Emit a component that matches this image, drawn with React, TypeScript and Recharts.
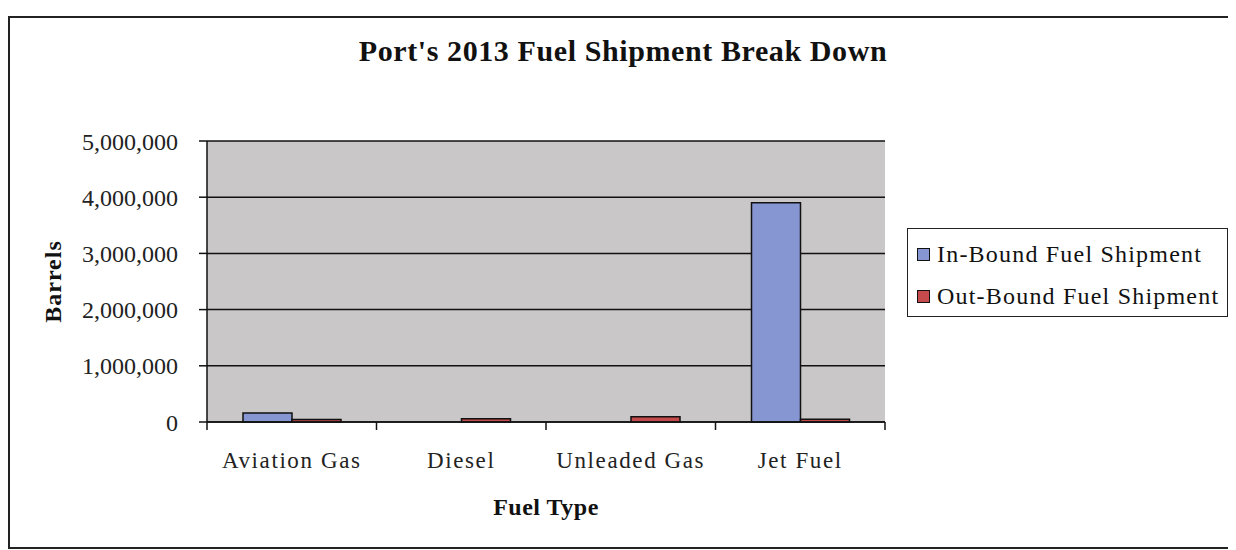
import React from 'react';
import { BarChart, Bar, XAxis, YAxis, CartesianGrid } from 'recharts';

// values (barrels)
const fuelTypes = ['Aviation Gas', 'Diesel', 'Unleaded Gas', 'Jet Fuel'];
const inBound = [160000, 0, 0, 3900000];
const outBound = [45000, 60000, 95000, 50000];
const yTicks = [0, 1000000, 2000000, 3000000, 4000000, 5000000];

const series = [
  { key: 'inBound', name: 'In-Bound Fuel Shipment', color: '#8596d2' },
  { key: 'outBound', name: 'Out-Bound Fuel Shipment', color: '#c44a4c' },
];

const data = fuelTypes.map((fuel, i) => ({
  fuel,
  inBound: inBound[i],
  outBound: outBound[i],
}));

const FONT = '"Liberation Serif", "Times New Roman", serif';
const yTickStyle = { fontFamily: FONT, fontSize: 24, fill: '#222' };

const TICK_SIZE = 8;
const TICK_MARGIN = 22;

const formatBarrels = (v: number) => v.toLocaleString('en-US');

// Excel style: tick marks sit on the category boundaries, labels in the middle
const CategoryTick = (props: any) => {
  const { x, y, payload, index, visibleTicksCount } = props;
  const half = payload.offset || 0;
  const axisY = y - TICK_SIZE - TICK_MARGIN;
  const edges = [x - half];
  if (index === visibleTicksCount - 1) edges.push(x + half);
  return (
    <g>
      {edges.map((ex, i) => (
        <line key={i} x1={ex} x2={ex} y1={axisY} y2={axisY + TICK_SIZE} stroke="#111" strokeWidth={1.5} />
      ))}
      <text
        x={x}
        y={y}
        dy="0.71em"
        textAnchor="middle"
        style={{ fontFamily: FONT, fontSize: 23, fill: '#222', letterSpacing: 1.6 }}
      >
        {payload.value}
      </text>
    </g>
  );
};

const App: React.FC = () => {
  return (
    <div style={{ paddingTop: 8 }}>
      <div
        style={{
          position: 'relative',
          width: 1222,
          height: 533,
          boxSizing: 'border-box',
          border: '2px solid #222',
          background: '#fff',
          fontFamily: FONT,
        }}
      >
        <div
          style={{
            position: 'absolute',
            top: 16,
            left: 4,
            width: '100%',
            textAlign: 'center',
            fontWeight: 'bold',
            fontSize: 30,
            letterSpacing: 0.6,
            color: '#111',
          }}
        >
          Port's 2013 Fuel Shipment Break Down
        </div>

        <BarChart
          width={1218}
          height={529}
          data={data}
          margin={{ top: 123, right: 343, bottom: 25, left: 20 }}
          barGap={0}
        >
          <CartesianGrid
            vertical={false}
            stroke="#111"
            strokeWidth={1.5}
            fill="#c9c7c7"
            fillOpacity={1}
          />
          <XAxis
            dataKey="fuel"
            height={100}
            tickLine={false}
            tickSize={TICK_SIZE}
            tickMargin={TICK_MARGIN}
            tick={<CategoryTick />}
            axisLine={{ stroke: '#111', strokeWidth: 1.5 }}
            label={{
              value: 'Fuel Type',
              position: 'insideBottom',
              offset: 7,
              style: { fontFamily: FONT, fontSize: 24, fontWeight: 'bold', fill: '#111', letterSpacing: 0.5 },
            }}
          />
          <YAxis
            width={177}
            domain={[0, 5000000]}
            ticks={yTicks}
            tickFormatter={formatBarrels}
            tick={yTickStyle}
            tickSize={8}
            tickMargin={21}
            tickLine={{ stroke: '#111', strokeWidth: 1.5 }}
            axisLine={{ stroke: '#111', strokeWidth: 1.5 }}
            label={{
              value: 'Barrels',
              angle: -90,
              position: 'insideLeft',
              offset: 22,
              style: { fontFamily: FONT, fontSize: 24, fontWeight: 'bold', fill: '#111', textAnchor: 'middle', letterSpacing: 1 },
            }}
          />
          {series.map((s) => (
            <Bar
              key={s.key}
              dataKey={s.key}
              name={s.name}
              fill={s.color}
              stroke="#111"
              strokeWidth={1.5}
              barSize={49}
              isAnimationActive={false}
            />
          ))}
        </BarChart>

        <div
          style={{
            position: 'absolute',
            left: 897,
            top: 210,
            width: 321,
            height: 89,
            boxSizing: 'border-box',
            border: '1.5px solid #222',
            padding: '4px 0 0 9px',
          }}
        >
          {series.map((s) => (
            <div
              key={s.key}
              style={{ display: 'flex', alignItems: 'center', height: 42, fontSize: 24, letterSpacing: 1.2, color: '#111', whiteSpace: 'nowrap' }}
            >
              <span
                style={{
                  display: 'inline-block',
                  width: 11,
                  height: 11,
                  background: s.color,
                  border: '1.5px solid #111',
                  marginRight: 7,
                }}
              />
              {s.name}
            </div>
          ))}
        </div>
      </div>
    </div>
  );
};

export default App;
